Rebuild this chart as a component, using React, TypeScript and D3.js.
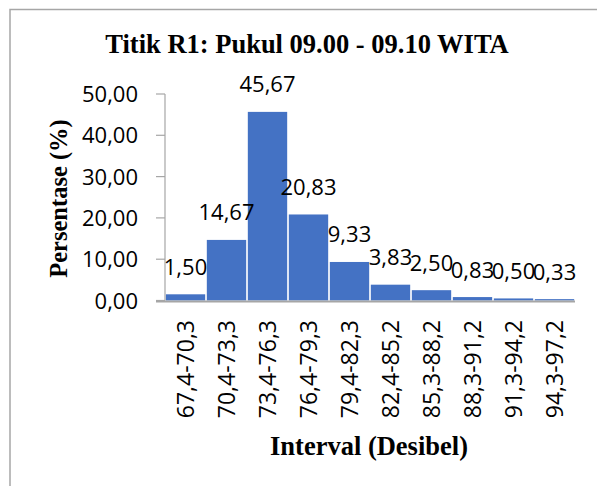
import React, { useEffect, useRef } from "react";
import * as d3 from "d3";

const categories = ["67,4-70,3", "70,4-73,3", "73,4-76,3", "76,4-79,3", "79,4-82,3", "82,4-85,2", "85,3-88,2", "88,3-91,2", "91,3-94,2", "94,3-97,2"];
const values = [1.5, 14.67, 45.67, 20.83, 9.33, 3.83, 2.5, 0.83, 0.5, 0.33];
const yTicks = [0, 10, 20, 30, 40, 50];
const title = "Titik R1: Pukul 09.00 - 09.10 WITA";
const xTitle = "Interval (Desibel)";
const yTitle = "Persentase (%)";

const W = 597, H = 486;
const fmt = (v: number) => v.toFixed(2).replace(".", ",");
const SANS = "'Open Sans', sans-serif";
const SERIF = "'Liberation Serif', 'Times New Roman', serif";

export default function App() {
  const ref = useRef<SVGSVGElement>(null);
  useEffect(() => {
    const svg = d3.select(ref.current);
    svg.selectAll("*").remove();
    const x = d3.scaleBand<string>().domain(categories).range([165, 575]).paddingInner(0.04).paddingOuter(0.02);
    const y = d3.scaleLinear().domain([0, 50]).range([300.5, 94]);

    svg.append("rect").attr("x", 10).attr("y", 9.5).attr("width", 700).attr("height", 600)
      .attr("fill", "white").attr("stroke", "#a6a6a6").attr("stroke-width", 1.5);

    svg.append("text").attr("x", 307).attr("y", 53).attr("text-anchor", "middle")
      .attr("font-family", SERIF).attr("font-weight", "bold").attr("font-size", 26.5).text(title);

    // bars
    svg.append("g").selectAll("rect").data(values).join("rect")
      .attr("x", (_d, i) => x(categories[i])!)
      .attr("width", x.bandwidth())
      .attr("y", (d) => y(d))
      .attr("height", (d) => y(0) - y(d))
      .attr("fill", "#4472C4");

    // y axis
    const gy = svg.append("g");
    gy.append("line").attr("x1", 165).attr("x2", 165).attr("y1", y(50)).attr("y2", y(0))
      .attr("stroke", "#a6a6a6").attr("stroke-width", 1.2);
    gy.selectAll("line.t").data(yTicks).join("line").attr("class", "t")
      .attr("x1", 156).attr("x2", 165).attr("y1", (d) => y(d)).attr("y2", (d) => y(d))
      .attr("stroke", "#a6a6a6").attr("stroke-width", 1.2);
    gy.selectAll("text").data(yTicks).join("text")
      .attr("x", 138).attr("y", (d) => y(d) + 8)
      .attr("text-anchor", "end").attr("font-family", SANS).attr("font-size", 22)
      .attr("fill", "#000").text((d) => fmt(d));

    // x axis
    svg.append("line").attr("x1", 156).attr("x2", 575).attr("y1", y(0) + 1).attr("y2", y(0) + 1)
      .attr("stroke", "#a6a6a6").attr("stroke-width", 2.2);

    svg.append("g").selectAll("text").data(categories).join("text")
      .attr("transform", (d) => `translate(${x(d)! + x.bandwidth() / 2 + 8.5},320) rotate(-90)`)
      .attr("text-anchor", "end").attr("font-family", SANS).attr("font-size", 23)
      .attr("fill", "#000").text((d) => d);

    // data labels
    svg.append("g").selectAll("text").data(values).join("text")
      .attr("x", (_d, i) => x(categories[i])! + x.bandwidth() / 2)
      .attr("y", (d) => y(d) - 19.5)
      .attr("text-anchor", "middle").attr("font-family", SANS).attr("font-size", 22)
      .attr("fill", "#000").text((d) => fmt(d));

    svg.append("text").attr("x", 369).attr("y", 455).attr("text-anchor", "middle")
      .attr("font-family", SERIF).attr("font-weight", "bold").attr("font-size", 26.5).text(xTitle);

    svg.append("text").attr("transform", "translate(67,198.5) rotate(-90)").attr("text-anchor", "middle")
      .attr("font-family", SERIF).attr("font-weight", "bold").attr("font-size", 24.5).text(yTitle);
  }, []);
  return (
    <div style={{ position: "absolute", left: 0, top: 0 }}>
      <svg ref={ref} width={W} height={H} style={{ display: "block", background: "white" }} />
    </div>
  );
}
